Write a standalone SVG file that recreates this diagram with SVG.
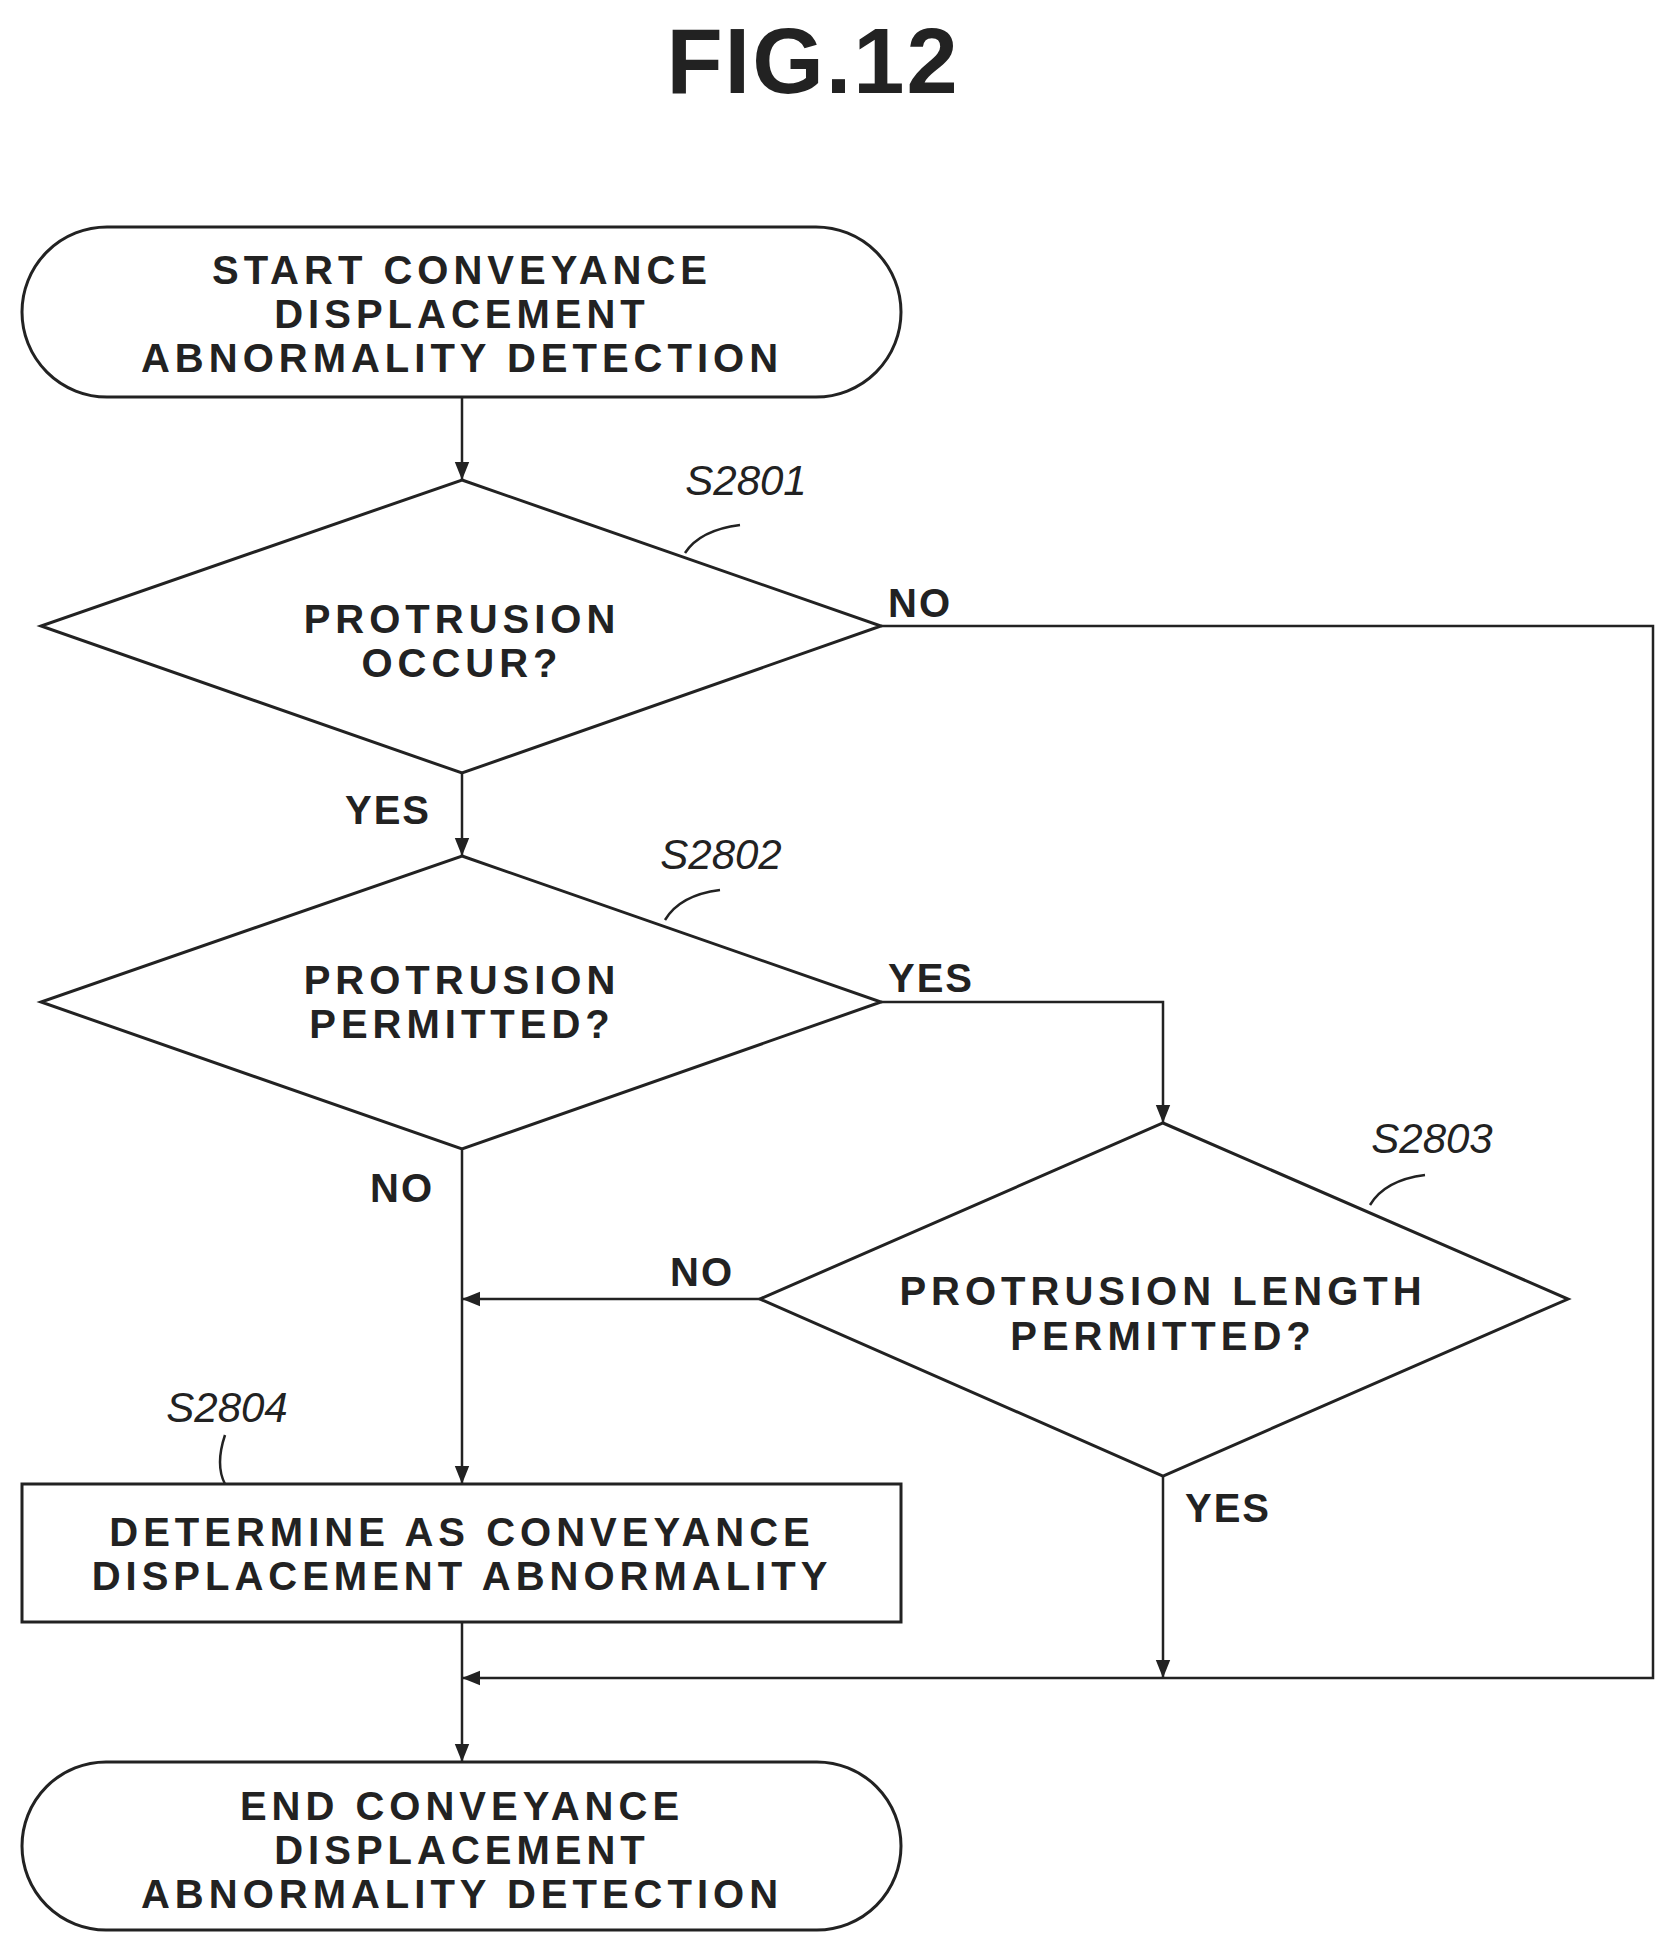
<svg xmlns="http://www.w3.org/2000/svg" width="1659" height="1935" viewBox="0 0 1659 1935">
<defs>
<marker id="ah" viewBox="0 0 10 10" refX="10" refY="5" markerWidth="18" markerHeight="18" markerUnits="userSpaceOnUse" orient="auto"><path d="M0,1 L10,5 L0,9 z" fill="#222"/></marker>
<style>
.s{fill:#fff;stroke:#222;stroke-width:3}
.c{fill:none;stroke:#222;stroke-width:2.5}
.t{font-family:"Liberation Sans",Arial,sans-serif;font-weight:bold;font-size:40px;letter-spacing:5px;fill:#222;text-anchor:middle}
.l{font-family:"Liberation Sans",Arial,sans-serif;font-style:italic;font-size:42px;fill:#222;text-anchor:middle}
.y{font-family:"Liberation Sans",Arial,sans-serif;font-weight:bold;font-size:40px;letter-spacing:2px;fill:#222}
</style>
</defs>
<rect width="1659" height="1935" fill="#fff"/>
<text x="813" y="93" class="t" style="font-size:92px;letter-spacing:2px">FIG.12</text>
<g id="start"><rect class="s" x="22" y="227" width="879" height="170" rx="85"/>
<text class="t" x="462" y="284">START CONVEYANCE</text><text class="t" x="462" y="328">DISPLACEMENT</text><text class="t" x="462" y="372">ABNORMALITY DETECTION</text></g>
<g id="s2801"><polygon class="s" points="462,480 881,626 462,773 41,626"/>
<text class="t" x="462" y="633">PROTRUSION</text><text class="t" x="462" y="677">OCCUR?</text>
<text class="l" x="746" y="495">S2801</text><path class="c" d="M685,553 Q700,530 740,525"/></g>
<g id="s2802"><polygon class="s" points="462,856 881,1002 462,1149 41,1002"/>
<text class="t" x="462" y="994">PROTRUSION</text><text class="t" x="462" y="1038">PERMITTED?</text>
<text class="l" x="721" y="869">S2802</text><path class="c" d="M665,920 Q680,895 720,890"/></g>
<g id="s2803"><polygon class="s" points="1163,1123 1568,1299 1163,1476 760,1299"/>
<text class="t" x="1163" y="1305">PROTRUSION LENGTH</text><text class="t" x="1163" y="1350">PERMITTED?</text>
<text class="l" x="1432" y="1153">S2803</text><path class="c" d="M1370,1205 Q1385,1180 1425,1175"/></g>
<g id="s2804"><rect class="s" x="22" y="1484" width="879" height="138"/>
<text class="t" x="462" y="1546">DETERMINE AS CONVEYANCE</text><text class="t" x="462" y="1590">DISPLACEMENT ABNORMALITY</text>
<text class="l" x="227" y="1422">S2804</text><path class="c" d="M225,1435 Q215,1465 225,1484"/></g>
<g id="end"><rect class="s" x="22" y="1762" width="879" height="168" rx="84"/>
<text class="t" x="462" y="1820">END CONVEYANCE</text><text class="t" x="462" y="1864">DISPLACEMENT</text><text class="t" x="462" y="1908">ABNORMALITY DETECTION</text></g>
<g id="connectors">
<path class="c" d="M462,397 V480" marker-end="url(#ah)"/>
<path class="c" d="M462,773 V856" marker-end="url(#ah)"/>
<path class="c" d="M462,1149 V1484" marker-end="url(#ah)"/>
<path class="c" d="M462,1622 V1762" marker-end="url(#ah)"/>
<path class="c" d="M881,626 H1653 V1678 H462" marker-end="url(#ah)"/>
<path class="c" d="M881,1002 H1163 V1123" marker-end="url(#ah)"/>
<path class="c" d="M760,1299 H462" marker-end="url(#ah)"/>
<path class="c" d="M1163,1476 V1678" marker-end="url(#ah)"/>
<text class="y" x="888" y="617">NO</text>
<text class="y" x="345" y="824">YES</text>
<text class="y" x="888" y="992">YES</text>
<text class="y" x="370" y="1202">NO</text>
<text class="y" x="670" y="1286">NO</text>
<text class="y" x="1185" y="1522">YES</text>
</g>
</svg>
